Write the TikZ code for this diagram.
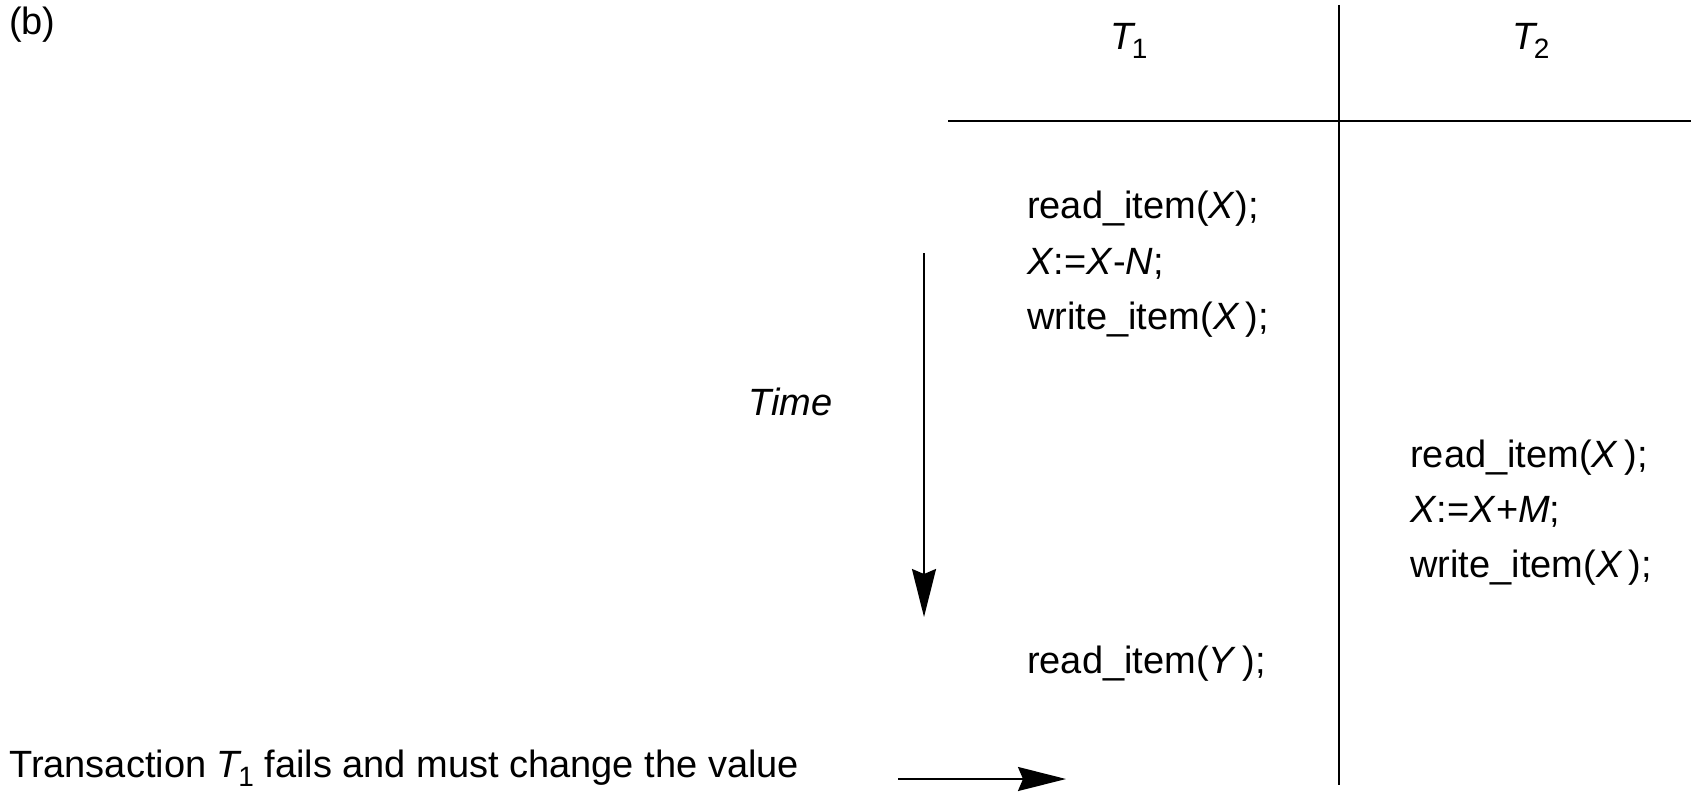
\documentclass[tikz,border=0pt]{standalone}
\usepackage{fontspec}
\setmainfont{Liberation Sans}
\usetikzlibrary{arrows.meta}
\newcommand{\tsub}[2]{\textit{#1}\kern-4pt\raisebox{-9pt}{\fontsize{28}{28}\selectfont #2}}

\begin{document}
\begin{tikzpicture}[x=1pt,y=-1pt,
            every node/.style={inner sep=0pt,font=\fontsize{38}{46}\selectfont},
            op/.style={anchor=base west},
            rule/.style={line width=2pt},
            timeline/.style={line width=2pt,-{Stealth[length=48pt,width=24pt,inset=5pt]}}]
            \useasboundingbox (0,0) rectangle (1691,792);
            \node [op] (tag) at (9,35) {(b)};
            \node [anchor=base] (t1) at (1129,50) {\tsub{T}{1}};
            \node [anchor=base] (t2) at (1531,50) {\tsub{T}{2}};
            \coordinate (hl) at (948,121);
            \coordinate (hr) at (1691,121);
            \coordinate (vt) at (1339,5);
            \coordinate (vb) at (1339,785);
            \draw [rule] (hl) -- (hr);
            \draw [rule] (vt) -- (vb);
            \node [op] (r1) at (1027,218) {read\_item(\textit{X});};
            \node [op] (a1) at (1027,274) {\textit{X}:=\textit{X}-\textit{N};};
            \node [op] (w1) at (1027,329) {write\_item(\textit{X}\,);};
            \node [op] (r2) at (1410,467) {read\_item(\textit{X}\,);};
            \node [op] (a2) at (1410,522) {\textit{X}:=\textit{X}+\textit{M};};
            \node [op] (w2) at (1410,577) {write\_item(\textit{X}\,);};
            \node [op] (ry) at (1027,673) {read\_item(\textit{Y}\,);};
            \node [op] (time) at (748,415) {\textit{Time}};
            \coordinate (ts) at (924,253);
            \coordinate (te) at (924,617);
            \draw [timeline] (ts) -- (te);
            \node [op] (fail) at (9,777) {Transaction \tsub{T}{1} fails and must change the value};
            \coordinate (fs) at (898,779);
            \coordinate (fe) at (1066,779);
            \draw [timeline] (fs) -- (fe);
\end{tikzpicture}
\end{document}
